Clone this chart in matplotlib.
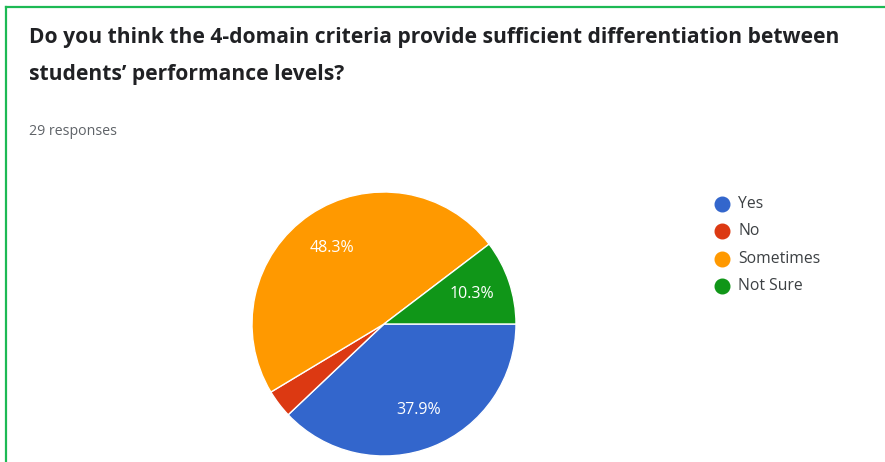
import matplotlib.pyplot as plt
from matplotlib.lines import Line2D

# Survey answers (29 responses)
categories = ["Yes", "No", "Sometimes", "Not Sure"]
counts = [11, 1, 14, 3]
colors = ["#3366CC", "#DC3912", "#FF9900", "#109618"]

title_lines = ["Do you think the 4-domain criteria provide sufficient differentiation between",
               "students\u2019 performance levels?"]
subtitle = "29 responses"

W, H = 885, 462
fig = plt.figure(figsize=(W / 100, H / 100), dpi=100)
fig.patch.set_facecolor("white")


def px(x, y):
    """pixel position (from top-left) -> figure fraction"""
    return x / W, 1 - y / H


# green card border (top and left edges only)
fig.add_artist(Line2D([6 / W, 1], [1 - 7 / H, 1 - 7 / H], color="#1DB954", lw=1.6,
                      transform=fig.transFigure))
fig.add_artist(Line2D([6 / W, 6 / W], [0, 1 - 7 / H], color="#1DB954", lw=1.6,
                      transform=fig.transFigure))

for i, line in enumerate(title_lines):
    fig.text(*px(29, 43 + 37 * i), line, fontsize=15.1, fontweight="bold",
             color="#202124", family="Open Sans", va="baseline", ha="left")
fig.text(*px(29, 135), subtitle, fontsize=10.2, color="#5f6368",
         family="Open Sans", va="baseline", ha="left")

# pie centred at (384, 324) px, radius ~132 px
cx, cy, r = 384, 324, 132
ax = fig.add_axes([(cx - r) / W, 1 - (cy + r) / H, 2 * r / W, 2 * r / H])
wedges, texts, autotexts = ax.pie(
    counts, colors=colors, startangle=0, counterclock=False, radius=1,
    autopct="%1.1f%%", pctdistance=0.7,
    wedgeprops=dict(edgecolor="white", linewidth=1),
    textprops=dict(color="white", fontsize=11.5, family="Open Sans"),
)
# slice too thin to carry its own label
autotexts[1].set_visible(False)
ax.set_xlim(-1, 1)
ax.set_ylim(-1, 1)
ax.set_aspect("equal")
ax.axis("off")

# legend
for i, (name, col) in enumerate(zip(categories, colors)):
    x0, y0 = px(722, 204 + 27.3 * i)
    fig.add_artist(Line2D([x0], [y0], marker="o", markersize=10.5, color=col,
                          linestyle="none", transform=fig.transFigure))
    fig.text(738 / W, y0, name, fontsize=11.3, color="#3c4043", family="Open Sans",
             va="center", ha="left")

fig.savefig("out.png", dpi=100)
